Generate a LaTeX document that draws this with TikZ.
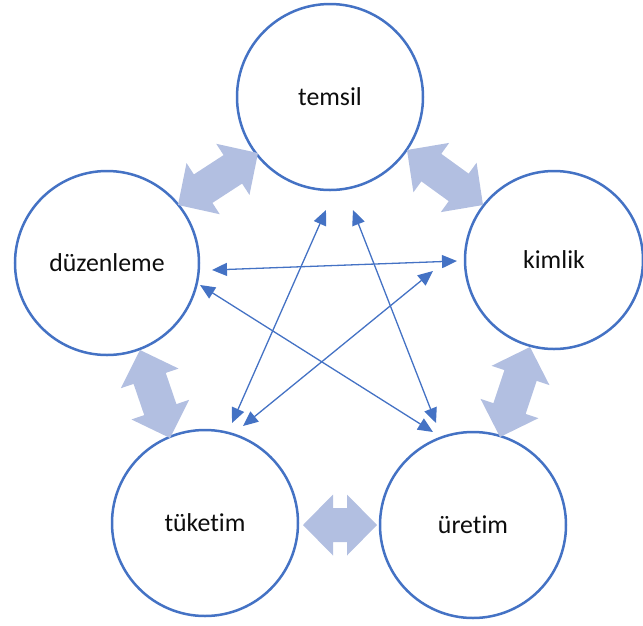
\documentclass[tikz,border=0pt]{standalone}
\usepackage{fontspec}
\setmainfont{Carlito}[Ligatures={NoCommon,NoContextual}]
\usetikzlibrary{arrows.meta,calc}
\definecolor{cblue}{RGB}{68,114,196}
\definecolor{cfill}{RGB}{178,191,225}
\tikzset{
  ring/.style={circle, draw=cblue, line width=2.5pt, fill=white, inner sep=0pt,
    font=\fontsize{25.8}{30}\selectfont, text=black!95},
  link/.style={draw=cblue, line width=1.3pt, {Triangle[length=15pt,width=13pt]}-{Triangle[length=15pt,width=13pt]}},
  fat/.style={fill=cfill, draw=none}
}
\newcommand{\dblarrow}[2]{%
  \fill[fat] (#1)
    -- ($($(#1)!30pt!(#2)$)!30.5pt!90:(#2)$)
    -- ($($(#1)!30pt!(#2)$)!17pt!90:(#2)$)
    -- ($($(#2)!30pt!(#1)$)!17pt!-90:(#1)$)
    -- ($($(#2)!30pt!(#1)$)!30.5pt!-90:(#1)$)
    -- (#2)
    -- ($($(#2)!30pt!(#1)$)!30.5pt!90:(#1)$)
    -- ($($(#2)!30pt!(#1)$)!17pt!90:(#1)$)
    -- ($($(#1)!30pt!(#2)$)!17pt!-90:(#2)$)
    -- ($($(#1)!30pt!(#2)$)!30.5pt!-90:(#2)$)
    -- cycle;}
\begin{document}
\begin{tikzpicture}[x=1pt,y=-1pt]
\useasboundingbox (0,0) rectangle (643,625);
% circles
\node[ring, minimum size=186pt] (temsil) at (330,97) {temsil};
\node[ring, minimum size=184pt] (duz) at (107,263) {düzenleme};
\node[ring, minimum size=178pt] (kim) at (554,260) {kimlik};
\node[ring, minimum size=186pt] (tuk) at (205,523) {tüketim};
\node[ring, minimum size=186pt] (ure) at (473,525) {üretim};
% thick double arrows
\coordinate (a1) at (258,153); \coordinate (b1) at (178,205);
\coordinate (a2) at (407,150); \coordinate (b2) at (483,205);
\coordinate (a3) at (140,350); \coordinate (b3) at (170,438);
\coordinate (a4) at (530,347); \coordinate (b4) at (500,437);
\coordinate (a5) at (303,525); \coordinate (b5) at (377,525);
\dblarrow{a1}{b1}
\dblarrow{a2}{b2}
\dblarrow{a3}{b3}
\dblarrow{a4}{b4}
\dblarrow{a5}{b5}
% thin arrows
\coordinate (tL) at (326,210); \coordinate (tR) at (353,210);
\coordinate (dA) at (212,270); \coordinate (dB) at (200,285);
\coordinate (kA) at (457,261); \coordinate (kB) at (433,271);
\coordinate (tuA) at (232,423); \coordinate (tuB) at (243,426);
\coordinate (urA) at (436,423); \coordinate (urB) at (433,432);
\draw[link] (tL) -- (tuA);
\draw[link] (tR) -- (urA);
\draw[link] (dA) -- (kA);
\draw[link] (dB) -- (urB);
\draw[link] (kB) -- (tuB);
\end{tikzpicture}
\end{document}
